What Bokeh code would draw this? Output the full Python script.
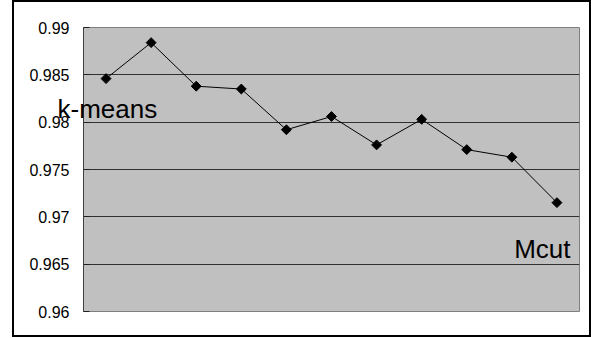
import math
from bokeh.plotting import figure
from bokeh.models import Range1d, FixedTicker, Label, Title, InlineStyleSheet
from bokeh.embed import file_html
from bokeh.resources import INLINE

# data
runs = list(range(1, 12))
scores = [0.9846, 0.9884, 0.9838, 0.9835, 0.9792, 0.9806, 0.9776, 0.9803, 0.9771, 0.9763, 0.9715]
y_ticks = [0.96, 0.965, 0.97, 0.975, 0.98, 0.985, 0.99]
y_tick_labels = ["0.96", "0.965", "0.97", "0.975", "0.98", "0.985", "0.99"]
label_top = "k-means"
label_bottom = "Mcut"

FONT = "Liberation Sans"

p = figure(width=591, height=338, output_backend="svg", toolbar_location=None,
           x_range=Range1d(0.5, 11.5), y_range=Range1d(0.96, 0.99),
           x_axis_location=None,
           min_border_left=83, min_border_right=12, min_border_top=27, min_border_bottom=27)
p.background_fill_color = "#C0C0C0"
p.border_fill_color = "white"
p.outline_line_color = "#808080"
p.outline_line_width = 1

p.xgrid.visible = False

yax = p.yaxis[0]
yax.ticker = FixedTicker(ticks=y_ticks)
yax.major_label_overrides = {t: l for t, l in zip(y_ticks, y_tick_labels)}
yax.major_label_text_font = FONT
yax.major_label_text_font_size = "16px"
yax.major_label_text_color = "black"
yax.major_label_standoff = 14
yax.major_tick_in = 6
yax.major_tick_out = 0
yax.major_tick_line_color = "#202020"
yax.minor_tick_line_color = None
yax.axis_line_color = "#404040"

p.ygrid.ticker = FixedTicker(ticks=y_ticks)
p.ygrid.grid_line_color = "#303030"
p.ygrid.grid_line_width = 1

p.line(runs, scores, line_color="black", line_width=1)
p.scatter(runs, scores, marker="square", angle=math.pi / 4, size=7,
          fill_color="black", line_color="black")

# "k-means" crosses the frame edge, so it is drawn as a side-panel title (not clipped)
p.add_layout(Title(text=label_top, align="left", vertical_align="top",
                   offset=-26, standoff=-435, text_font=FONT, text_font_size="26px",
                   text_font_style="normal", text_color="black"), "below")
p.add_layout(Label(x=11.30, y=0.96665, text=label_bottom, text_font=FONT, text_font_size="26px",
                   text_color="black", text_baseline="alphabetic", text_align="right"))

p.stylesheets = [InlineStyleSheet(css=""":host { position: relative; }
:host::after { content: ''; position: absolute; left: 12px; top: 0px; width: 579px; height: 337px;
 border: 2px solid black; box-sizing: border-box; pointer-events: none; }""")]

open("out.html", "w").write(file_html(p, INLINE))
